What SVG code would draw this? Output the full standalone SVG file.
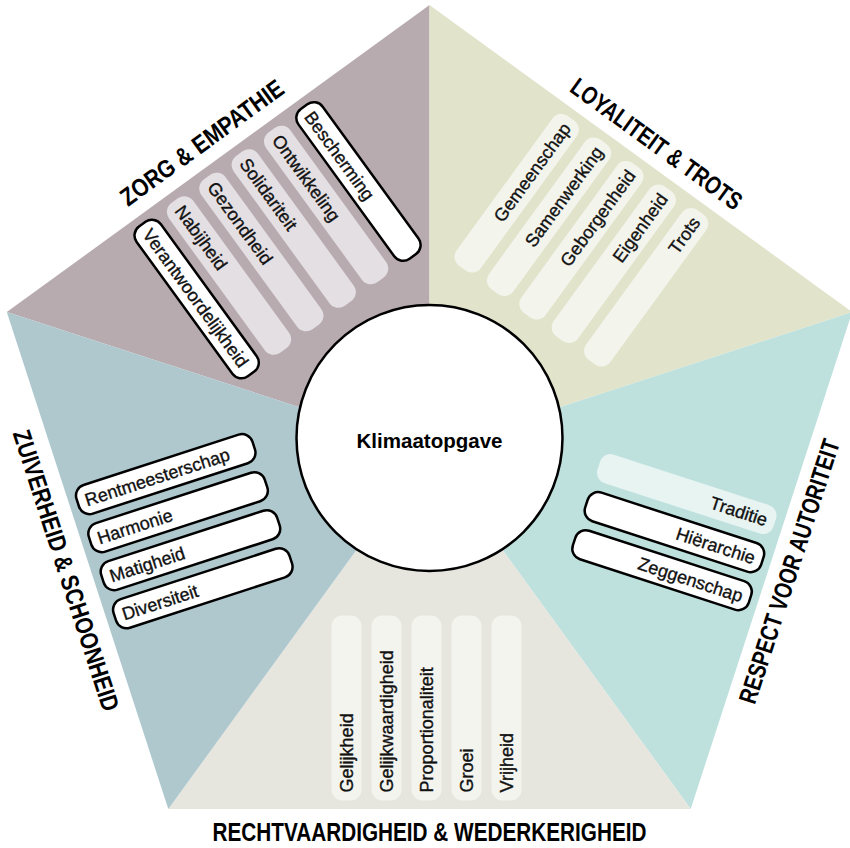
<svg xmlns="http://www.w3.org/2000/svg" width="850" height="848" viewBox="0 0 850 848">
<style>
  .pt{font-family:"Liberation Sans",Arial,sans-serif;font-size:18px;fill:#111;stroke:#111;stroke-width:0.35}
  .pte{font-family:"Liberation Sans",Arial,sans-serif;font-size:18px;fill:#111;stroke:#111;stroke-width:0.35;text-anchor:end}
  .title{font-family:"Liberation Sans",Arial,sans-serif;font-size:25px;font-weight:bold;fill:#000;text-anchor:middle}
  .outl{fill:#fff;stroke:#000;stroke-width:2.5}
  .lp-purple{fill:#e4dfe2}
  .lp-green{fill:#f3f4ec}
  .lp-teal{fill:#e7f4f2}
  .lp-bottom{fill:#f4f4ef}
</style>
<rect width="850" height="848" fill="#fff"/>

<g id="sector-zorg">
  <polygon points="6.8,312.1 429.5,5 429.5,449.4" fill="#b8abb0"/>
  <g transform="translate(429.5 449.4) rotate(144)">
    <rect class="outl" x="85" y="166" width="30" height="185" rx="11"/>
    <text class="pt" transform="translate(106.5 343) rotate(-90)">Verantwoordelijkheid</text>
    <rect class="lp-purple" x="45" y="166" width="30" height="185" rx="11"/>
    <text class="pt" transform="translate(66.5 343) rotate(-90)">Nabijheid</text>
    <rect class="lp-purple" x="5" y="166" width="30" height="185" rx="11"/>
    <text class="pt" transform="translate(26.5 343) rotate(-90)">Gezondheid</text>
    <rect class="lp-purple" x="-35" y="166" width="30" height="185" rx="11"/>
    <text class="pt" transform="translate(-13.5 343) rotate(-90)">Solidariteit</text>
    <rect class="lp-purple" x="-75" y="166" width="30" height="185" rx="11"/>
    <text class="pt" transform="translate(-53.5 343) rotate(-90)">Ontwikkeling</text>
    <rect class="outl" x="-115" y="166" width="30" height="185" rx="11"/>
    <text class="pt" transform="translate(-93.5 343) rotate(-90)">Bescherming</text>
  </g>
  <text class="title" transform="translate(207 149.6) rotate(-36)" textLength="195" lengthAdjust="spacingAndGlyphs">ZORG &amp; EMPATHIE</text>
</g>

<g id="sector-loyaliteit">
  <polygon points="429.5,5 852.2,312.1 429.5,449.4" fill="#e1e4cb"/>
  <g transform="translate(429.5 449.4) rotate(216)">
    <rect class="lp-green" x="65" y="166" width="30" height="185" rx="11"/>
    <text class="pte" transform="translate(73.5 343) rotate(90)">Gemeenschap</text>
    <rect class="lp-green" x="25" y="166" width="30" height="185" rx="11"/>
    <text class="pte" transform="translate(33.5 343) rotate(90)">Samenwerking</text>
    <rect class="lp-green" x="-15" y="166" width="30" height="185" rx="11"/>
    <text class="pte" transform="translate(-6.5 343) rotate(90)">Geborgenheid</text>
    <rect class="lp-green" x="-55" y="166" width="30" height="185" rx="11"/>
    <text class="pte" transform="translate(-46.5 343) rotate(90)">Eigenheid</text>
    <rect class="lp-green" x="-95" y="166" width="30" height="185" rx="11"/>
    <text class="pte" transform="translate(-86.5 343) rotate(90)">Trots</text>
  </g>
  <text class="title" transform="translate(651.5 151) rotate(36)" textLength="205" lengthAdjust="spacingAndGlyphs">LOYALITEIT &amp; TROTS</text>
</g>

<g id="sector-respect">
  <polygon points="852.2,312.1 690.7,809 429.5,449.4" fill="#bee1de"/>
  <g transform="translate(429.5 449.4) rotate(288)">
    <rect class="lp-teal" x="22" y="166" width="30" height="185" rx="11"/>
    <text class="pte" transform="translate(30.5 343) rotate(90)">Traditie</text>
    <rect class="outl" x="-18" y="166" width="30" height="185" rx="11"/>
    <text class="pte" transform="translate(-9.5 343) rotate(90)">Hiërarchie</text>
    <rect class="outl" x="-58" y="166" width="30" height="185" rx="11"/>
    <text class="pte" transform="translate(-49.5 343) rotate(90)">Zeggenschap</text>
  </g>
  <text class="title" transform="translate(797.5 574) rotate(-72)" textLength="276" lengthAdjust="spacingAndGlyphs">RESPECT VOOR AUTORITEIT</text>
</g>

<g id="sector-rechtvaardigheid">
  <polygon points="690.7,809 168.3,809 429.5,449.4" fill="#e6e5de"/>
  <g transform="translate(429.5 449.4)">
    <rect class="lp-bottom" x="-98" y="166" width="30" height="185" rx="11"/>
    <text class="pt" transform="translate(-76.5 343) rotate(-90)">Gelijkheid</text>
    <rect class="lp-bottom" x="-58" y="166" width="30" height="185" rx="11"/>
    <text class="pt" transform="translate(-36.5 343) rotate(-90)">Gelijkwaardigheid</text>
    <rect class="lp-bottom" x="-18" y="166" width="30" height="185" rx="11"/>
    <text class="pt" transform="translate(3.5 343) rotate(-90)">Proportionaliteit</text>
    <rect class="lp-bottom" x="22" y="166" width="30" height="185" rx="11"/>
    <text class="pt" transform="translate(43.5 343) rotate(-90)">Groei</text>
    <rect class="lp-bottom" x="62" y="166" width="30" height="185" rx="11"/>
    <text class="pt" transform="translate(83.5 343) rotate(-90)">Vrijheid</text>
  </g>
  <text class="title" x="429.5" y="841" textLength="434" lengthAdjust="spacingAndGlyphs">RECHTVAARDIGHEID &amp; WEDERKERIGHEID</text>
</g>

<g id="sector-zuiverheid">
  <polygon points="168.3,809 6.8,312.1 429.5,449.4" fill="#aec8ce"/>
  <g transform="translate(429.5 449.4) rotate(72)">
    <rect class="outl" x="-73" y="166" width="30" height="185" rx="11"/>
    <text class="pt" transform="translate(-51.5 343) rotate(-90)">Rentmeesterschap</text>
    <rect class="outl" x="-33" y="166" width="30" height="185" rx="11"/>
    <text class="pt" transform="translate(-11.5 343) rotate(-90)">Harmonie</text>
    <rect class="outl" x="7" y="166" width="30" height="185" rx="11"/>
    <text class="pt" transform="translate(28.5 343) rotate(-90)">Matigheid</text>
    <rect class="outl" x="47" y="166" width="30" height="185" rx="11"/>
    <text class="pt" transform="translate(68.5 343) rotate(-90)">Diversiteit</text>
  </g>
  <text class="title" transform="translate(58 573.1) rotate(72)" textLength="294" lengthAdjust="spacingAndGlyphs">ZUIVERHEID &amp; SCHOONHEID</text>
</g>

<g id="center">
  <circle cx="429.5" cy="438" r="133" fill="#fff" stroke="#000" stroke-width="2.5"/>
  <text x="429.5" y="447.5" font-family="Liberation Sans, Arial, sans-serif" font-size="20" font-weight="bold" text-anchor="middle" textLength="146" lengthAdjust="spacingAndGlyphs">Klimaatopgave</text>
</g>
</svg>
